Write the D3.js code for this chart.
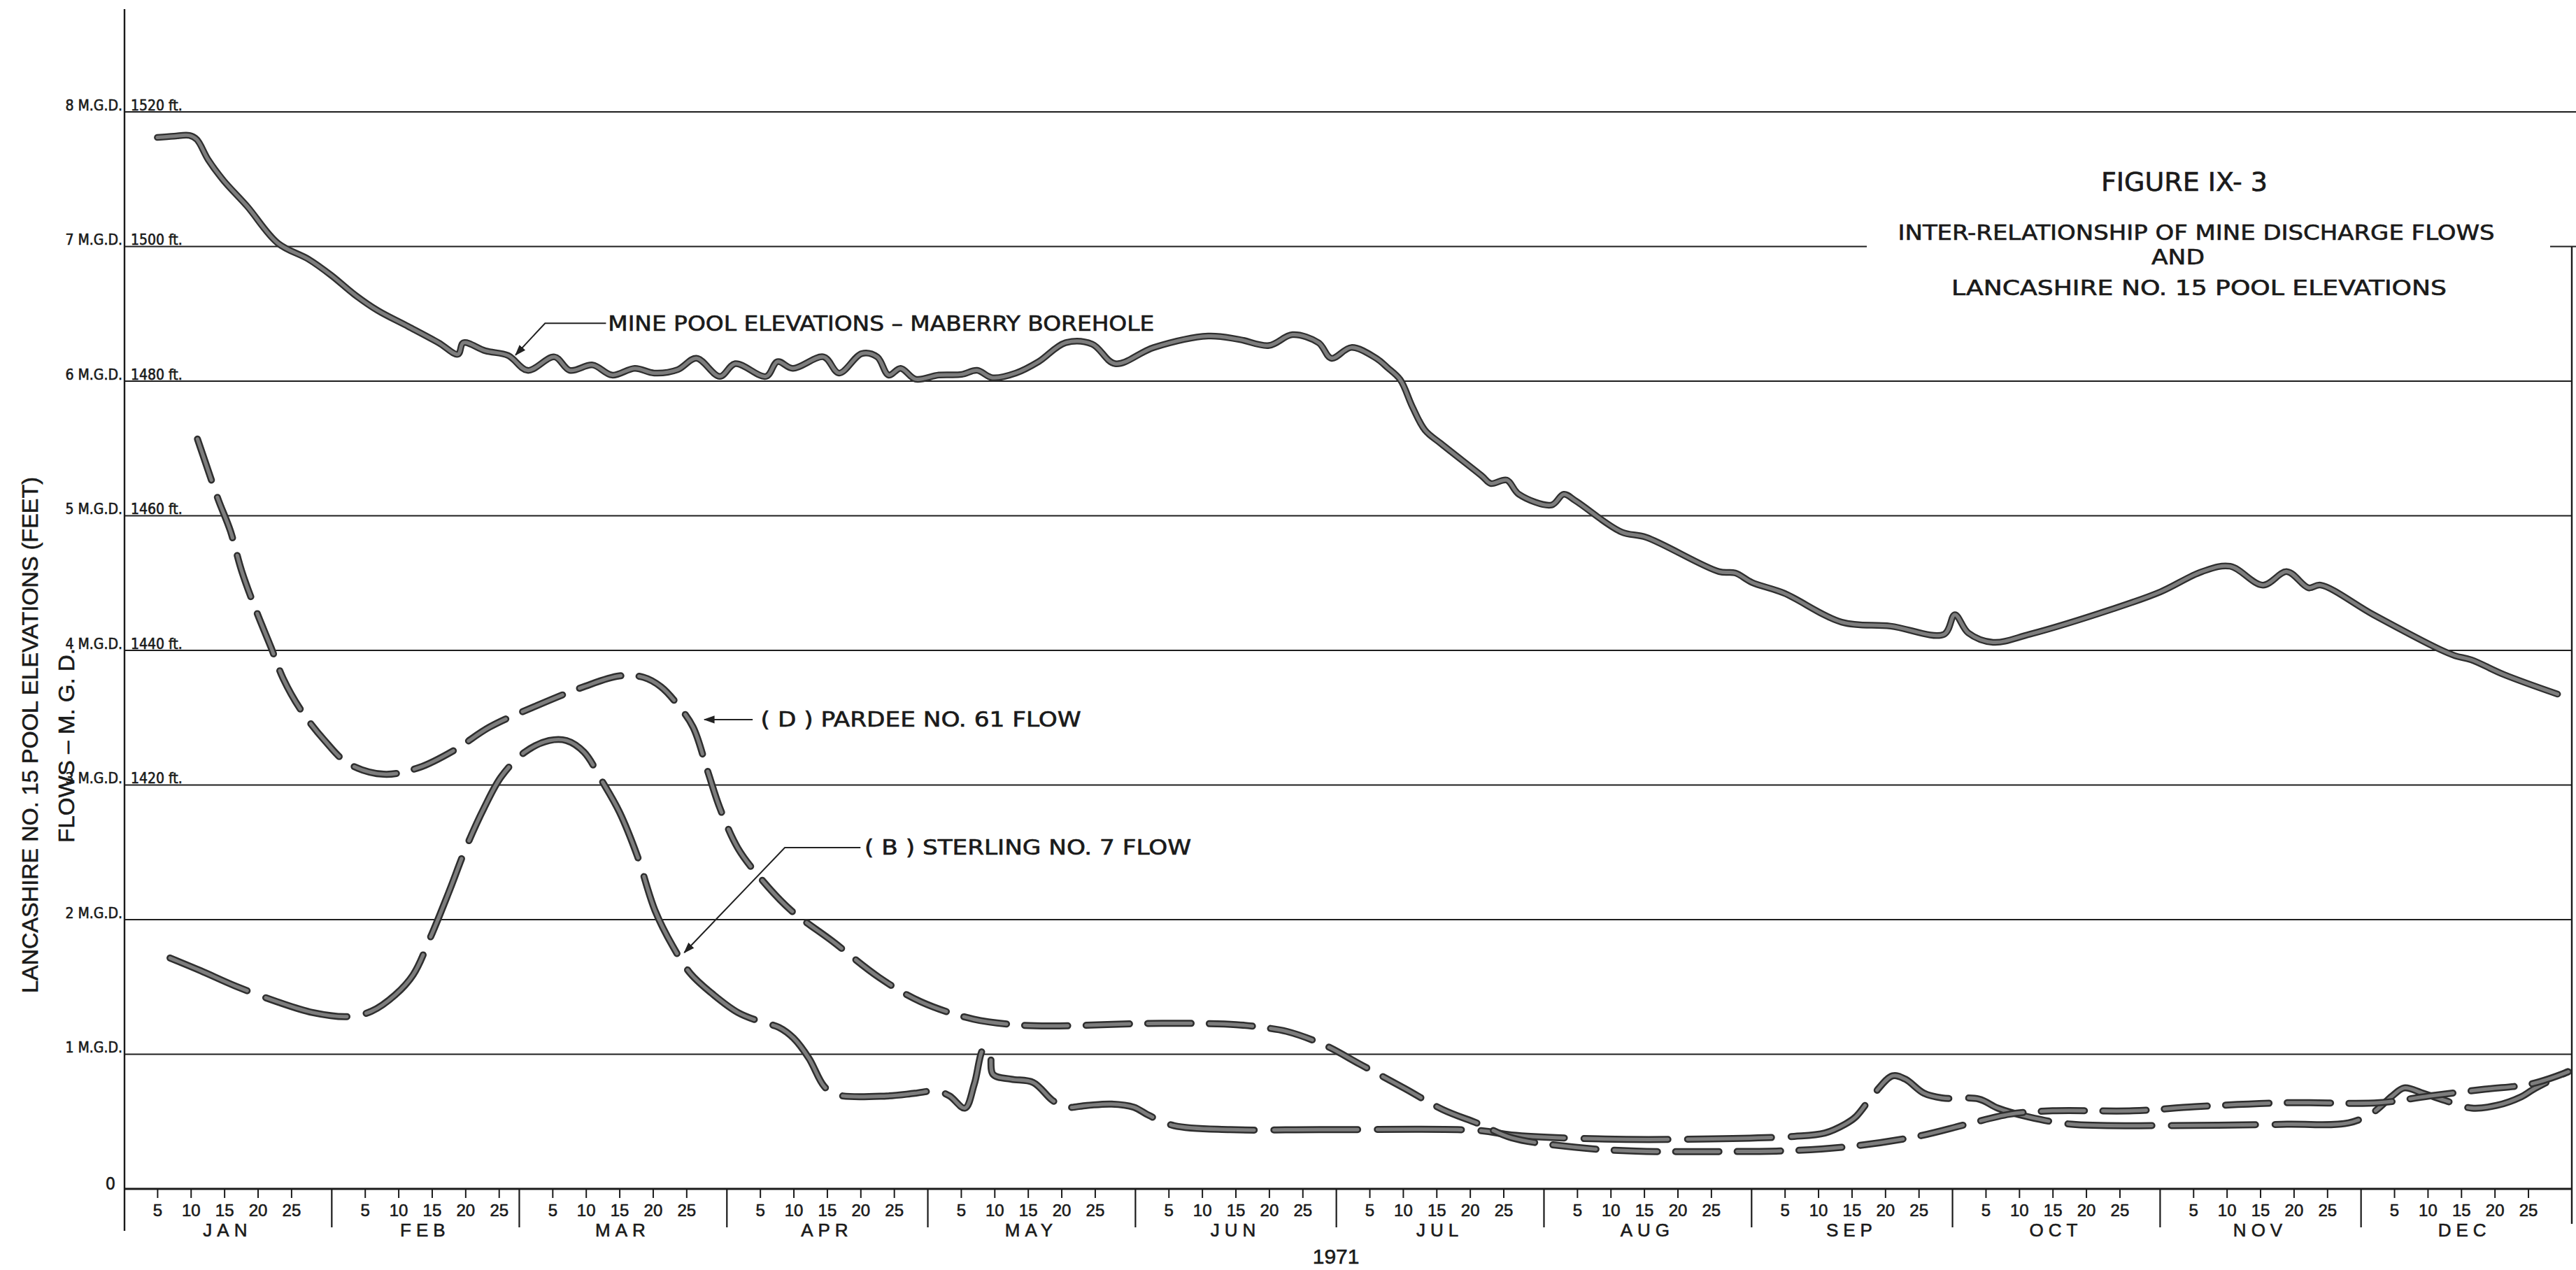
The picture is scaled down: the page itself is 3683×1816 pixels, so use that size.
<!DOCTYPE html>
<html>
<head>
<meta charset="utf-8">
<script src="https://cdn.jsdelivr.net/npm/d3@7"></script>
<style>
  html, body { margin: 0; padding: 0; background: #fff; }
  svg { display: block; background: #fff; }
  text { font-family: "Liberation Sans Narrow", "DejaVu Sans Condensed", "Liberation Sans", Arial, sans-serif; fill: #1a1a1a; stroke: #1a1a1a; stroke-width: 0.6px; }
</style>
</head>
<body>
<div id="chart"></div>
<script>
// 1971 calendar
const months = ["JAN", "FEB", "MAR", "APR", "MAY", "JUN", "JUL", "AUG", "SEP", "OCT", "NOV", "DEC"];
const monthDays = [31, 28, 31, 30, 31, 30, 31, 31, 30, 31, 30, 31];
const dayTicks = [5, 10, 15, 20, 25];

// left / right y labels
const flowTicks = [0, 1, 2, 3, 4, 5, 6, 7, 8];
const elevTicks = [1420, 1440, 1460, 1480, 1500, 1520];

// [day of year, elevation ft]
const minePool = [
  [5.0, 1516.2], [7.5, 1516.4], [9.8, 1516.5], [10.9, 1515.9], [12.6, 1512.9], [14.9, 1509.8],
  [18.4, 1506.0], [23.0, 1500.5], [27.6, 1498.1], [31.0, 1495.7], [34.4, 1492.9], [37.9, 1490.5],
  [42.5, 1488.1], [47.0, 1485.7], [49.9, 1484.0], [50.7, 1485.7], [54.0, 1484.5], [57.4, 1483.8],
  [60.3, 1481.6], [64.3, 1483.6], [66.6, 1481.6], [70.0, 1482.4], [72.9, 1480.9], [76.3, 1481.9],
  [79.2, 1481.2], [82.7, 1481.7], [85.5, 1483.4], [89.0, 1480.7], [91.3, 1482.6], [95.9, 1480.7],
  [97.6, 1482.9], [99.9, 1481.9], [104.5, 1483.6], [106.8, 1481.2], [110.2, 1484.1], [112.5, 1483.6],
  [114.2, 1480.9], [116.0, 1481.9], [118.2, 1480.3], [121.7, 1480.9], [125.1, 1481.0], [127.4, 1481.6],
  [129.7, 1480.5], [133.2, 1481.2], [136.6, 1482.9], [140.6, 1485.7], [144.6, 1485.5], [148.0, 1482.6],
  [153.8, 1485.0], [161.9, 1486.7], [166.5, 1486.2], [171.0, 1485.3], [174.5, 1486.9], [178.4, 1485.7],
  [180.3, 1483.4], [183.3, 1485.0], [187.0, 1483.4], [188.7, 1482.0], [190.6, 1480.2], [192.4, 1476.2],
  [194.3, 1472.7], [196.7, 1470.7], [202.8, 1465.9], [204.1, 1464.8], [206.5, 1465.3], [208.3, 1463.2],
  [213.2, 1461.6], [215.0, 1463.2], [216.8, 1462.2], [223.6, 1457.6], [227.3, 1456.8], [238.2, 1451.7],
  [240.6, 1451.5], [243.1, 1450.1], [247.9, 1448.5], [256.5, 1444.2], [263.8, 1443.6], [271.8, 1442.4],
  [273.4, 1445.3], [275.4, 1442.6], [279.1, 1441.2], [284.6, 1442.4], [296.8, 1446.1], [304.1, 1448.7],
  [310.3, 1451.7], [314.5, 1452.5], [319.4, 1449.7], [323.0, 1451.7], [326.2, 1449.3], [328.0, 1449.7],
  [335.9, 1445.3], [345.7, 1440.2], [348.1, 1439.2], [350.5, 1438.6], [355.4, 1436.4], [363.4, 1433.5]
];

// [day of year, M.G.D.]
const pardee = [
  [11.0, 5.57], [12.3, 5.38], [14.1, 5.12], [15.9, 4.89], [17.6, 4.59], [19.8, 4.29], [22.0, 4.02],
  [23.8, 3.79], [26.4, 3.56], [30.0, 3.33], [33.5, 3.16], [38.8, 3.08], [44.1, 3.13], [49.4, 3.26],
  [54.6, 3.43], [61.7, 3.59], [68.7, 3.73], [74.0, 3.81], [77.6, 3.80], [80.2, 3.73], [82.8, 3.59],
  [85.0, 3.43], [87.2, 3.10], [89.0, 2.83], [91.7, 2.53], [95.2, 2.30], [99.6, 2.07], [105.8, 1.84],
  [112.8, 1.57], [119.0, 1.39], [126.9, 1.26], [133.0, 1.22], [138.2, 1.21], [155.0, 1.23], [166.1, 1.22],
  [169.9, 1.20], [173.6, 1.17], [179.2, 1.07], [184.8, 0.92], [191.3, 0.745], [196.9, 0.59], [202.5, 0.48],
  [207.2, 0.38], [216.5, 0.31], [225.8, 0.28], [235.5, 0.277], [249.4, 0.285], [258.6, 0.32], [267.8, 0.39],
  [275.2, 0.48], [281.6, 0.555], [288.0, 0.58], [300.0, 0.58], [309.2, 0.61], [323.0, 0.64], [336.8, 0.64],
  [344.2, 0.69], [352.5, 0.74], [359.5, 0.78], [365.0, 0.87]
];

const sterling = [
  [6.9, 1.715], [11.5, 1.62], [16.7, 1.506], [22.9, 1.39], [28.2, 1.31], [33.5, 1.28], [37.0, 1.32],
  [40.5, 1.44], [43.2, 1.59], [45.8, 1.87], [48.5, 2.20], [51.1, 2.535], [53.8, 2.83], [56.4, 3.065],
  [59.9, 3.245], [63.5, 3.33], [66.1, 3.33], [68.7, 3.245], [71.4, 3.03], [74.0, 2.80], [76.7, 2.47],
  [79.3, 2.07], [82.0, 1.80], [84.6, 1.60], [88.1, 1.44], [91.7, 1.31], [95.2, 1.24], [97.8, 1.20],
  [100.0, 1.12], [102.3, 0.97], [104.6, 0.76], [106.4, 0.70], [113.9, 0.69], [118.1, 0.71], [121.4, 0.727],
  [123.3, 0.69], [125.6, 0.60], [127.0, 0.78], [128.4, 1.04], [129.3, 1.02], [129.8, 0.85], [132.5, 0.815],
  [135.8, 0.79], [138.6, 0.66], [140.5, 0.607], [143.8, 0.62], [147.5, 0.63], [150.8, 0.607], [153.1, 0.545],
  [156.8, 0.47], [165.2, 0.44], [179.2, 0.44], [202.5, 0.433], [207.2, 0.40], [221.2, 0.37], [235.5, 0.37],
  [249.4, 0.39], [254.0, 0.415], [257.0, 0.48], [258.6, 0.535], [261.4, 0.71], [264.1, 0.84], [266.0, 0.815],
  [268.8, 0.71], [271.5, 0.675], [277.0, 0.667], [279.8, 0.60], [284.4, 0.535], [290.8, 0.48], [304.6, 0.47],
  [323.0, 0.48], [332.2, 0.49], [335.9, 0.57], [338.7, 0.69], [340.5, 0.75], [343.3, 0.71], [347.0, 0.65],
  [350.6, 0.60], [354.3, 0.62], [358.0, 0.685], [359.8, 0.74], [364.9, 0.87]
];

const W = 3683, H = 1816;
const xLeft = 178, xRight = 3677;
const titleGap = [2669, 3646];

const svg = d3.select("#chart").append("svg")
    .attr("width", W)
    .attr("height", H);

const x = d3.scaleLinear().domain([0, 365]).range([177, 3672]);
const y = d3.scaleLinear().domain([0, 8]).range([1700, 160]);
const yFt = d3.scaleLinear().domain([1360, 1520]).range([1700, 160]);

const monthStart = Array.from(d3.cumsum([0, ...monthDays.slice(0, -1)]));

// arrow marker for leaders
svg.append("defs").append("marker")
    .attr("id", "arrow")
    .attr("viewBox", "0 0 10 10")
    .attr("refX", 9).attr("refY", 5)
    .attr("markerWidth", 16).attr("markerHeight", 16)
    .attr("markerUnits", "userSpaceOnUse")
    .attr("orient", "auto")
  .append("path")
    .attr("d", "M0,1.5 L10,5 L0,8.5 Z")
    .attr("fill", "#222");

// grid lines (7 M.G.D. line is broken around the title)
const grid = svg.append("g").attr("stroke", "#1e1e1e").attr("stroke-width", 2).attr("fill", "none");
flowTicks.filter(d => d > 0).forEach(v => {
  const segs = v === 7 ? [[xLeft, titleGap[0]], [titleGap[1], W]]
             : v === 8 ? [[xLeft, W]] : [[xLeft, xRight]];
  segs.forEach(s => grid.append("line")
      .attr("x1", s[0]).attr("x2", s[1])
      .attr("y1", y(v)).attr("y2", y(v)));
});

// frame
svg.append("line").attr("x1", xLeft).attr("x2", xLeft).attr("y1", 13).attr("y2", 1760)
    .attr("stroke", "#1a1a1a").attr("stroke-width", 2.4);
svg.append("line").attr("x1", xRight).attr("x2", xRight).attr("y1", y(7)).attr("y2", 1750)
    .attr("stroke", "#1a1a1a").attr("stroke-width", 2.4);
svg.append("line").attr("x1", xLeft).attr("x2", xRight).attr("y1", y(0)).attr("y2", y(0))
    .attr("stroke", "#1a1a1a").attr("stroke-width", 3.2);

// bottom axis: day ticks
const tickPos = [], tickLab = [];
monthStart.forEach(m => dayTicks.forEach(d => { tickPos.push(m + d); tickLab.push(String(d)); }));

const dayAxis = svg.append("g")
    .attr("transform", `translate(0,${y(0)})`)
    .call(d3.axisBottom(x).tickValues(tickPos).tickSize(13).tickPadding(9)
      .tickFormat((d, i) => tickLab[i]));
dayAxis.select(".domain").remove();
dayAxis.selectAll("line").attr("stroke", "#1a1a1a").attr("stroke-width", 2);
dayAxis.selectAll("text").attr("font-size", 24).attr("fill", "#1a1a1a")
    .style("font-family", "'Liberation Sans', Arial, sans-serif");

// month separators
const monAxis = svg.append("g")
    .attr("transform", `translate(0,${y(0)})`)
    .call(d3.axisBottom(x).tickValues(monthStart.slice(1)).tickSize(55).tickFormat(""));
monAxis.select(".domain").remove();
monAxis.selectAll("line").attr("stroke", "#1a1a1a").attr("stroke-width", 2.2);

svg.append("g").selectAll("text")
  .data(months)
  .join("text")
    .attr("x", (d, i) => x(monthStart[i] + monthDays[i] / 2))
    .attr("y", 1768)
    .attr("text-anchor", "middle")
    .attr("font-size", 26)
    .attr("letter-spacing", 7)
    .style("font-family", "'Liberation Sans', Arial, sans-serif")
    .text(d => d);

svg.append("text")
    .attr("x", x(monthStart[6]))
    .attr("y", 1807)
    .attr("text-anchor", "middle")
    .attr("font-size", 30)
    .style("font-family", "'Liberation Sans', Arial, sans-serif")
    .text("1971");

// left labels (M.G.D.)
const leftAxis = svg.append("g")
    .attr("transform", `translate(${xLeft},0)`)
    .call(d3.axisLeft(y).tickValues(flowTicks).tickSize(0).tickPadding(3)
      .tickFormat(d => d === 0 ? "0" : d + " M.G.D."));
leftAxis.select(".domain").remove();
leftAxis.selectAll("text")
    .attr("dy", null)
    .attr("y", -3)
    .attr("font-size", 21)
    .attr("fill", "#1a1a1a");
leftAxis.selectAll(".tick").filter(d => d === 0).select("text")
    .attr("x", -13).attr("y", 0).attr("font-size", 25);

// right-of-axis labels (feet)
const ftAxis = svg.append("g")
    .attr("transform", `translate(${xLeft},0)`)
    .call(d3.axisRight(yFt).tickValues(elevTicks).tickSize(0).tickPadding(9)
      .tickFormat(d => d + " ft."));
ftAxis.select(".domain").remove();
ftAxis.selectAll("text")
    .attr("dy", null)
    .attr("y", -3)
    .attr("font-size", 21)
    .attr("fill", "#1a1a1a");

// rotated axis titles
svg.append("text")
    .attr("transform", "translate(54,1051) rotate(-90)")
    .attr("text-anchor", "middle")
    .attr("font-size", 32)
    .attr("textLength", 738)
    .attr("lengthAdjust", "spacingAndGlyphs")
    .style("font-family", "'Liberation Sans', Arial, sans-serif")
    .text("LANCASHIRE NO. 15  POOL  ELEVATIONS  (FEET)");
svg.append("text")
    .attr("transform", "translate(106,1066) rotate(-90)")
    .attr("text-anchor", "middle")
    .attr("font-size", 32)
    .attr("textLength", 278)
    .attr("lengthAdjust", "spacingAndGlyphs")
    .style("font-family", "'Liberation Sans', Arial, sans-serif")
    .text("FLOWS – M. G. D.");

// series
const lineFlow = d3.line()
    .x(d => x(d[0]))
    .y(d => y(d[1]))
    .curve(d3.curveCatmullRom.alpha(0.5));
const lineFt = d3.line()
    .x(d => x(d[0]))
    .y(d => yFt(d[1]))
    .curve(d3.curveCatmullRom.alpha(0.5));

function drawSeries(path, dash, outer, inner) {
  const g = svg.append("g").attr("fill", "none")
      .attr("stroke-linecap", "round").attr("stroke-linejoin", "round");
  g.append("path").attr("d", path)
      .attr("stroke", "#2e2e2e").attr("stroke-width", outer)
      .attr("stroke-dasharray", dash);
  g.append("path").attr("d", path)
      .attr("stroke", "#7d7d7d").attr("stroke-width", inner)
      .attr("stroke-dasharray", dash);
}

drawSeries(lineFlow(sterling), "120,28", 10, 5);
drawSeries(lineFlow(pardee), "62,26", 10, 5);
drawSeries(lineFt(minePool), null, 9.5, 5);

// annotations: leader points in data space
const annotations = [
  { text: "MINE POOL  ELEVATIONS – MABERRY  BOREHOLE", scale: yFt, tx: 72.3, ty: 1487.5, len: 781,
    leader: [[72.0, 1488.6], [62.9, 1488.6], [58.5, 1483.9]] },
  { text: "( D )  PARDEE  NO. 61  FLOW", scale: y, tx: 95.1, ty: 3.434, len: 458,
    leader: [[93.9, 3.486], [86.7, 3.486]] },
  { text: "( B )  STERLING  NO. 7  FLOW", scale: y, tx: 110.6, ty: 2.483, len: 467,
    leader: [[110.0, 2.535], [98.7, 2.535], [83.7, 1.756]] }
];

const ann = svg.append("g");
annotations.forEach(a => {
  ann.append("path")
      .attr("d", d3.line().x(p => x(p[0])).y(p => a.scale(p[1]))(a.leader))
      .attr("fill", "none")
      .attr("stroke", "#222")
      .attr("stroke-width", 2)
      .attr("marker-end", "url(#arrow)");
  ann.append("text")
      .attr("x", x(a.tx))
      .attr("y", a.scale(a.ty))
      .attr("font-size", 30)
      .attr("textLength", a.len)
      .attr("lengthAdjust", "spacingAndGlyphs")
      .text(a.text);
});

// title block
const titleLines = [
  { text: "FIGURE  IX- 3", cx: 3123, by: 273, size: 37, len: 238 },
  { text: "INTER-RELATIONSHIP OF MINE DISCHARGE FLOWS", cx: 3140, by: 343, size: 31, len: 853 },
  { text: "AND", cx: 3114, by: 378, size: 31, len: 76 },
  { text: "LANCASHIRE  NO. 15  POOL   ELEVATIONS", cx: 3144, by: 422, size: 31, len: 708 }
];
svg.append("g").selectAll("text")
  .data(titleLines)
  .join("text")
    .attr("x", d => d.cx)
    .attr("y", d => d.by)
    .attr("text-anchor", "middle")
    .attr("font-size", d => d.size)
    .attr("textLength", d => d.len)
    .attr("lengthAdjust", "spacingAndGlyphs")
    .text(d => d.text);
</script>
</body>
</html>
